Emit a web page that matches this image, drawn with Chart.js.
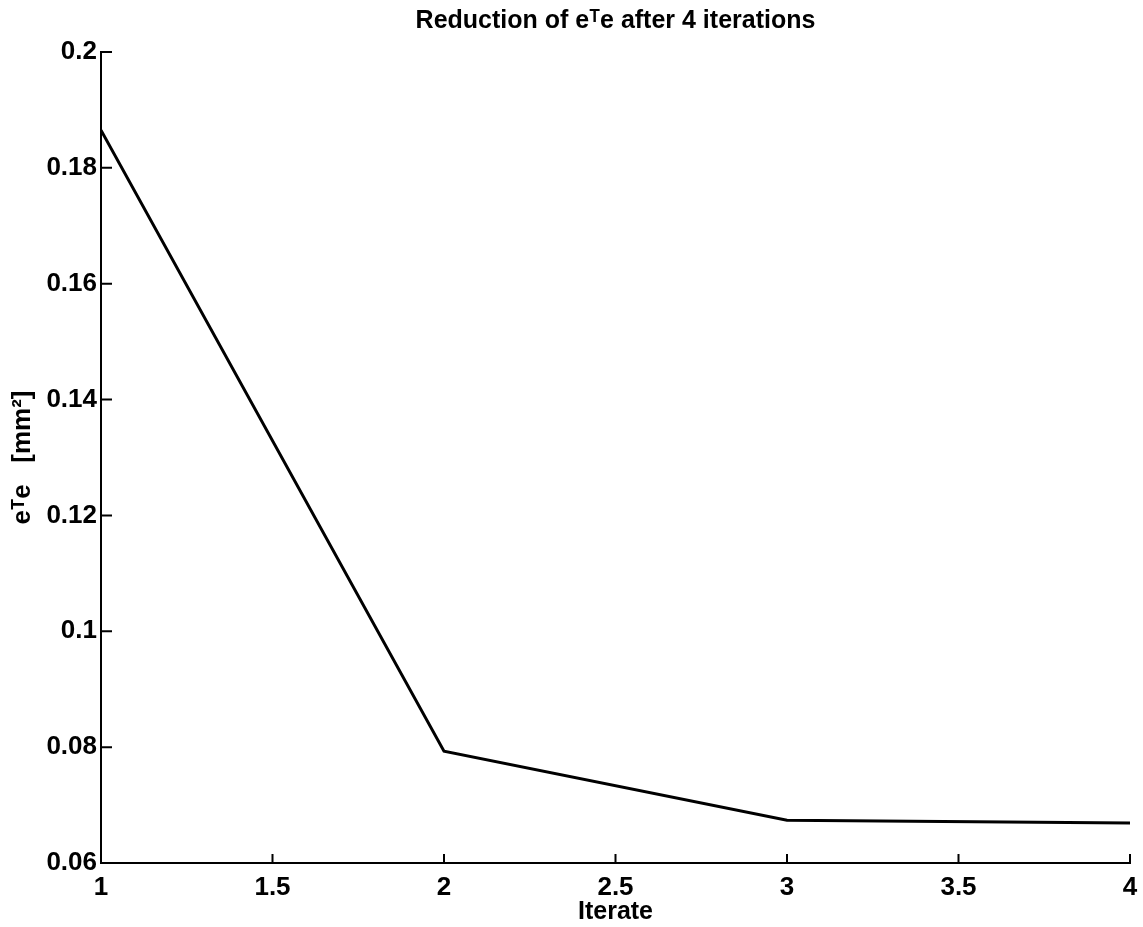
<!DOCTYPE html>
<html>
<head>
<meta charset="utf-8">
<script src="https://cdn.jsdelivr.net/npm/chart.js@4"></script>
<style>
  html, body { margin: 0; padding: 0; background: #fff; }
  #wrap { width: 1143px; height: 927px; }
</style>
</head>
<body>
<div id="wrap"><canvas id="chart"></canvas></div>
<script>
const iterations = [1, 2, 3, 4];
const errorValues = [0.1865, 0.0793, 0.0674, 0.0669];

const xTicks = [1, 1.5, 2, 2.5, 3, 3.5, 4];
const yTicks = [0.06, 0.08, 0.1, 0.12, 0.14, 0.16, 0.18, 0.2];

const chartTitle = 'Reduction of e\u1D40e after 4 iterations';

const FONT = '"Liberation Sans", Arial, Helvetica, sans-serif';

// matlab style ticks pointing into the plot + title centred over the axes
const matlabLook = {
    id: 'matlabLook',
    afterDraw(chart) {
        const { ctx, chartArea, scales } = chart;
        ctx.save();
        ctx.strokeStyle = '#000';
        ctx.lineWidth = 2;
        ctx.beginPath();
        xTicks.forEach(v => {
            const px = scales.x.getPixelForValue(v);
            ctx.moveTo(px, chartArea.bottom);
            ctx.lineTo(px, chartArea.bottom - 9);
        });
        yTicks.forEach(v => {
            const py = scales.y.getPixelForValue(v);
            ctx.moveTo(chartArea.left, py);
            ctx.lineTo(chartArea.left + 11, py);
        });
        ctx.stroke();

        ctx.fillStyle = '#000';
        ctx.font = 'bold 25px ' + FONT;
        ctx.textAlign = 'center';
        ctx.textBaseline = 'middle';
        ctx.fillText(chartTitle, (chartArea.left + chartArea.right) / 2, 21);
        ctx.restore();
    }
};

new Chart(document.getElementById('chart'), {
    type: 'line',
    data: {
        datasets: [{
            data: iterations.map((x, i) => ({ x, y: errorValues[i] })),
            borderColor: '#000',
            borderWidth: 3,
            pointRadius: 0,
            tension: 0,
            fill: false
        }]
    },
    options: {
        responsive: true,
        maintainAspectRatio: false,
        animation: false,
        layout: { padding: { top: 52, right: 13, bottom: 0, left: 0 } },
        plugins: {
            legend: { display: false },
            tooltip: { enabled: false },
            title: { display: false }
        },
        scales: {
            x: {
                type: 'linear',
                min: 1,
                max: 4,
                afterBuildTicks: s => { s.ticks = xTicks.map(value => ({ value })); },
                afterFit: s => { s.height = 64; s.paddingRight = 0; s.paddingLeft = 0; },
                grid: { display: false, drawTicks: false },
                border: { display: true, color: '#000', width: 2 },
                ticks: {
                    color: '#000',
                    padding: 9,
                    maxRotation: 0,
                    font: { family: FONT, size: 26, weight: 'bold' },
                    callback: v => String(v)
                },
                title: {
                    display: true,
                    text: 'Iterate',
                    color: '#000',
                    font: { family: FONT, size: 25, weight: 'bold' },
                    padding: { top: 2, bottom: 0 }
                }
            },
            y: {
                min: 0.06,
                max: 0.2,
                afterBuildTicks: s => { s.ticks = yTicks.map(value => ({ value })); },
                afterFit: s => { s.width = 101; s.paddingTop = 0; s.paddingBottom = 0; },
                grid: { display: false, drawTicks: false },
                border: { display: true, color: '#000', width: 2 },
                ticks: {
                    color: '#000',
                    padding: 4,
                    font: { family: FONT, size: 26, weight: 'bold' },
                    callback: v => String(parseFloat(v.toFixed(2)))
                },
                title: {
                    display: true,
                    text: 'e\u1D40e   [mm\u00B2]',
                    color: '#000',
                    font: { family: FONT, size: 26, weight: 'bold' },
                    padding: { top: 7, bottom: 0 }
                }
            }
        }
    },
    plugins: [matlabLook]
});
</script>
</body>
</html>
